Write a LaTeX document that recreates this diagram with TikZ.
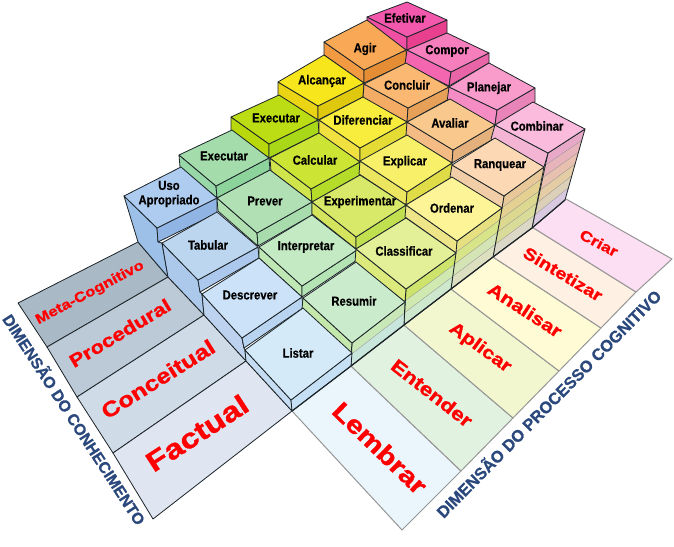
\documentclass[tikz,border=0pt]{standalone}
\usepackage{fontspec}
\setmainfont{Liberation Sans}
\newfontfamily\labfont{Liberation Sans}[FakeStretch=0.87,BoldFeatures={FakeBold=0.5}]
\newfontfamily\redfont{Liberation Sans}[FakeStretch=1.2,BoldFeatures={FakeBold=1.2}]
\newfontfamily\axfont{Liberation Sans}[BoldFeatures={FakeBold=0.8}]
\usetikzlibrary{calc}
\definecolor{edgec}{HTML}{1C2428}
\tikzset{
  lab/.style={font=\labfont\fontsize{13}{14.5}\selectfont\bfseries,text=black,inner sep=0pt,align=center},
  redlab/.style={font=\redfont\fontsize{#1}{#1}\selectfont\bfseries,text=red,inner sep=0pt},
  axislab/.style={font=\axfont\fontsize{#1}{17}\selectfont\bfseries,text={rgb,255:red,42;green,72;blue,124},inner sep=0pt},
  blk/.style={draw=edgec,line width=.8pt,line join=round},
  gryf/.style={draw={rgb,255:red,150;green,150;blue,150},line width=1pt,line join=round}
}
\newcommand{\setc}[6]{\coordinate (cL) at #1; \coordinate (cT) at #2; \coordinate (cR) at #3; \coordinate (cB) at #4; \coordinate (cBl) at #5; \coordinate (cRl) at #6;}
\newcommand{\faceL}[1]{\definecolor{cleft}{HTML}{#1}\filldraw[blk,fill=cleft] (cL) -- (cB) -- (cBl) -- ($(cL)+(cBl)-(cB)$) -- cycle;}
\newcommand{\faceR}[1]{\definecolor{cright}{HTML}{#1}\filldraw[blk,fill=cright] (cB) -- (cR) -- (cRl) -- (cBl) -- cycle;}
\newcommand{\faceT}[1]{\definecolor{ctop}{HTML}{#1}\filldraw[blk,fill=ctop] (cL) -- (cT) -- (cR) -- (cB) -- cycle;}
% \cube{L}{T}{R}{B}{lower B}{lower R}{top}{left}{right}
\newcommand{\cube}[9]{\setc{#1}{#2}{#3}{#4}{#5}{#6}\faceL{#8}\faceR{#9}\faceT{#7}}
% no left face (first column), no right face (front row)
\newcommand{\cubeTR}[8]{\setc{#1}{#2}{#3}{#4}{#5}{#6}\faceR{#8}\faceT{#7}}
\newcommand{\cubeTL}[8]{\setc{#1}{#2}{#3}{#4}{#5}{#6}\faceL{#8}\faceT{#7}}
% band of a stacked face: A B top edge, C D bottom edge, fractions, colour
\newcommand{\band}[7]{%
  \definecolor{cband}{HTML}{#7}%
  \fill[cband] ($#1!#5!#4$) -- ($#2!#5!#3$) -- ($#2!#6!#3$) -- ($#1!#6!#4$) -- cycle;
  \draw[gryf] ($#1!#6!#4$) -- ($#2!#6!#3$);
}
\begin{document}
\begin{tikzpicture}[x=1pt,y=-1pt]
\useasboundingbox (0,0) rectangle (674,546);
% --- left floor
\definecolor{fa}{HTML}{AAB9C6}\definecolor{fb}{HTML}{BCC9D6}\definecolor{fc}{HTML}{CFDBE7}\definecolor{fd}{HTML}{DFE5F1}
\filldraw[blk,fill=fa] (18,303) -- (138,242) -- (168,277) -- (47,347) -- cycle;
\filldraw[blk,fill=fb] (47,347) -- (168,277) -- (204,315) -- (77,397) -- cycle;
\filldraw[blk,fill=fc] (77,397) -- (204,315) -- (246,361) -- (113,453) -- cycle;
\filldraw[blk,fill=fd] (113,453) -- (246,361) -- (292,411) -- (153,519) -- cycle;
% --- right floor
\definecolor{ra}{HTML}{EAF5FC}\definecolor{rb}{HTML}{E2F2E0}\definecolor{rc}{HTML}{F3F7D0}\definecolor{rd}{HTML}{FEFBD5}\definecolor{re}{HTML}{FEF0E2}\definecolor{rf}{HTML}{FDDFF3}
\filldraw[gryf,fill=ra] (292,411) -- (351,366) -- (461,471) -- (402,530) -- cycle;
\filldraw[gryf,fill=rb] (351,366) -- (404,325) -- (513,418) -- (461,471) -- cycle;
\filldraw[gryf,fill=rc] (404,325) -- (451,289) -- (559,371) -- (513,418) -- cycle;
\filldraw[gryf,fill=rd] (451,289) -- (493,257) -- (601,328) -- (559,371) -- cycle;
\filldraw[gryf,fill=re] (493,257) -- (532,227) -- (636,292) -- (601,328) -- cycle;
\filldraw[gryf,fill=rf] (532,227) -- (566,199) -- (672,259) -- (636,292) -- cycle;
% --- Meta row
\cube{(367,17)}{(407,2)}{(447,20)}{(407,37)}{(407,50)}{(447,33)}{F358AC}{F04FA3}{E8408F}
\cube{(324,42)}{(367,20)}{(406,50)}{(364,70)}{(364,83)}{(407,63)}{F9A855}{F29A41}{E58D35}
\cube{(278,82)}{(324,55)}{(364,83)}{(318,106)}{(318,120)}{(363,97)}{F8E61C}{EBD414}{E0C80F}
\cube{(231,117)}{(279,95)}{(318,120)}{(269,144)}{(269,158)}{(319,133)}{BCDC14}{B8D80C}{A8D818}
\cube{(179,155)}{(232,130)}{(269,158)}{(216,186)}{(217,198)}{(270,170)}{A4DCAC}{98D8A8}{8CD49C}
\definecolor{bu}{HTML}{9DC0E8}
\filldraw[blk,fill=bu] (124,196) -- (157,228) -- (158,242) -- (162,243) -- (168,277) -- (138,242) -- cycle;
\cubeTR{(124,196)}{(181,167)}{(217,198)}{(157,228)}{(158,242)}{(217,213)}{AECCF0}{90B4E4}
% --- Procedural row
\cube{(407,50)}{(447,33)}{(489,53)}{(451,72)}{(449,86)}{(489,63)}{F77EBC}{F466B0}{EA64A8}
\cube{(364,84)}{(406,63)}{(449,87)}{(408,108)}{(407,122)}{(449,99)}{FAB872}{F4AC64}{E6A058}
\cube{(319,120)}{(363,97)}{(407,122)}{(360,148)}{(360,162)}{(407,135)}{F8EC3C}{F0E040}{E4DC34}
\cube{(270,158)}{(319,133)}{(360,162)}{(311,189)}{(312,202)}{(360,175)}{CCE434}{D0E44C}{B4DC28}
\cube{(217,198)}{(270,170)}{(312,202)}{(257,233)}{(258,246)}{(312,215)}{B0E0B4}{B0E0B0}{A8DCAC}
\definecolor{bt}{HTML}{ACC9EC}
\filldraw[blk,fill=bt] (162,243) -- (198,280) -- (200,292) -- (202,294) -- (204,315) -- (168,277) -- cycle;
\cubeTR{(162,243)}{(217,212)}{(258,247)}{(198,280)}{(200,292)}{(259,258)}{BCD6F0}{ACC8EC}
% --- Conceitual row
\cube{(449,87)}{(489,63)}{(535,88)}{(497,110)}{(495,125)}{(535,102)}{F99CCC}{F68CC4}{E884B8}
\cube{(407,122)}{(450,99)}{(495,125)}{(453,150)}{(452,163)}{(495,138)}{F9C88C}{F4BC84}{E4B07C}
\cube{(360,161)}{(407,135)}{(452,163)}{(407,192)}{(406,205)}{(452,177)}{F8F068}{ECE560}{E0DC48}
\cube{(312,202)}{(360,175)}{(406,205)}{(356,237)}{(356,249)}{(406,218)}{D8E868}{D4E45C}{C0E050}
\cube{(259,247)}{(312,215)}{(357,250)}{(302,286)}{(302,297)}{(357,260)}{C4EAC4}{C0E8B4}{B4E4B4}
\definecolor{bd}{HTML}{BDD2EE}
\filldraw[blk,fill=bd] (202,294) -- (242,338) -- (244,348) -- (245,350) -- (246,361) -- (204,315) -- cycle;
\cubeTR{(202,294)}{(259,258)}{(302,297)}{(242,338)}{(244,348)}{(303,308)}{CCE2F8}{B8D4F0}
% --- Factual row, stacked right faces
\band{(548,153)}{(585,129)}{(565,200)}{(532,228)}{0}{0.1667}{E8A8C8}
\band{(548,153)}{(585,129)}{(565,200)}{(532,228)}{0.1667}{0.3333}{E8B4BC}
\band{(548,153)}{(585,129)}{(565,200)}{(532,228)}{0.3333}{0.5}{E8C0B0}
\band{(548,153)}{(585,129)}{(565,200)}{(532,228)}{0.5}{0.6667}{E4CCA4}
\band{(548,153)}{(585,129)}{(565,200)}{(532,228)}{0.6667}{0.8333}{DCD0B8}
\band{(548,153)}{(585,129)}{(565,200)}{(532,228)}{0.8333}{1}{D8C8E0}
\draw[blk] (548,153) -- (585,129) -- (565,200) -- (532,228) -- cycle;
\cubeTL{(495,125)}{(533,102)}{(585,129)}{(548,153)}{(544,167)}{(582,142)}{FABBDC}{F4B4D4}
\band{(504,196)}{(544,167)}{(532,228)}{(493,257)}{0}{0.2}{E8C898}
\band{(504,196)}{(544,167)}{(532,228)}{(493,257)}{0.2}{0.4}{E4D090}
\band{(504,196)}{(544,167)}{(532,228)}{(493,257)}{0.4}{0.6}{DCD890}
\band{(504,196)}{(544,167)}{(532,228)}{(493,257)}{0.6}{0.8}{D8DC98}
\band{(504,196)}{(544,167)}{(532,228)}{(493,257)}{0.8}{1}{DCD8C8}
\draw[blk] (504,196) -- (544,167) -- (532,228) -- (493,257) -- cycle;
\cubeTL{(452,165)}{(495,138)}{(544,167)}{(504,196)}{(502,208)}{(541,180)}{FDD8B4}{F2CEA8}
\band{(457,241)}{(502,208)}{(493,257)}{(451,289)}{0}{0.25}{E6E080}
\band{(457,241)}{(502,208)}{(493,257)}{(451,289)}{0.25}{0.5}{D8E488}
\band{(457,241)}{(502,208)}{(493,257)}{(451,289)}{0.5}{0.75}{D4E4B4}
\band{(457,241)}{(502,208)}{(493,257)}{(451,289)}{0.75}{1}{DCE0C0}
\draw[blk] (457,241) -- (502,208) -- (493,257) -- (451,289) -- cycle;
\cubeTL{(406,205)}{(452,177)}{(502,208)}{(457,241)}{(456,253)}{(500,220)}{FDF498}{EEE488}
\band{(406,289)}{(456,253)}{(451,289)}{(404,325)}{0}{0.3333}{CDE36C}
\band{(406,289)}{(456,253)}{(451,289)}{(404,325)}{0.3333}{0.6667}{CFE9B0}
\band{(406,289)}{(456,253)}{(451,289)}{(404,325)}{0.6667}{1}{CDE8CC}
\draw[blk] (406,289) -- (456,253) -- (451,289) -- (404,325) -- cycle;
\cubeTL{(356,249)}{(406,218)}{(456,253)}{(406,289)}{(405,302)}{(455,265)}{E4F098}{DCEA7C}
\band{(352,343)}{(405,302)}{(404,325)}{(351,366)}{0}{0.5}{C8E8B8}
\band{(352,343)}{(405,302)}{(404,325)}{(351,366)}{0.5}{1}{C8E6DC}
\draw[blk] (352,343) -- (405,302) -- (404,325) -- (351,366) -- cycle;
\cubeTL{(303,298)}{(356,262)}{(405,302)}{(352,343)}{(351,354)}{(405,314)}{CBECCC}{C4E8AC}
\definecolor{bl}{HTML}{C5DCF2}
\filldraw[blk,fill=bl] (245,350) -- (291,400) -- (292,411) -- (246,361) -- cycle;
\cubeTR{(245,350)}{(303,308)}{(352,353)}{(291,400)}{(292,411)}{(351,366)}{D4EAF8}{C5E0F5}
% --- base edge
\draw[edgec,line width=1.1pt] (292,411) -- (351,366) -- (404,325) -- (451,289) -- (493,257) -- (532,228) -- (565,200);
% --- cell labels
\node[lab] (n1) at (405,18) {Efetivar};
\node[lab] (n2) at (365,49) {Agir};
\node[lab] (n3) at (447,51) {Compor};
\node[lab] (n4) at (322,81) {Alcançar};
\node[lab] (n5) at (407,85) {Concluir};
\node[lab] (n6) at (489,88) {Planejar};
\node[lab] (n7) at (276,118) {Executar};
\node[lab] (n8) at (363,120) {Diferenciar};
\node[lab] (n9) at (450,123) {Avaliar};
\node[lab] (n10) at (537,126) {Combinar};
\node[lab] (n11) at (224,156) {Executar};
\node[lab] (n12) at (315,160) {Calcular};
\node[lab] (n13) at (405,162) {Explicar};
\node[lab] (n14) at (500,165) {Ranquear};
\node[lab] (n15) at (169,194) {Uso\\Apropriado};
\node[lab] (n16) at (265,201) {Prever};
\node[lab] (n17) at (360,202) {Experimentar};
\node[lab] (n18) at (452,208) {Ordenar};
\node[lab] (n19) at (208,245) {Tabular};
\node[lab] (n20) at (306,247) {Interpretar};
\node[lab] (n21) at (404,251) {Classificar};
\node[lab] (n22) at (250,295) {Descrever};
\node[lab] (n23) at (354,301) {Resumir};
\node[lab] (n24) at (298,353) {Listar};
% --- knowledge labels
\node[redlab=27.6,rotate=33] (k1) at (197,433) {Factual};
\node[redlab=21.1,rotate=32] (k2) at (158,379) {Conceitual};
\node[redlab=18.3,rotate=31] (k3) at (120,333) {Procedural};
\node[redlab=13.9,rotate=28] (k4) at (90,293) {Meta-Cognitivo};
% --- process labels
\node[redlab=25,rotate=-44] (p1) at (380,448) {Lembrar};
\node[redlab=18.7,rotate=-38] (p2) at (432,393) {Entender};
\node[redlab=17.7,rotate=-36] (p3) at (480,348) {Aplicar};
\node[redlab=17.8,rotate=-33] (p4) at (525,310) {Analisar};
\node[redlab=16.5,rotate=-31] (p5) at (563,274) {Sintetizar};
\node[redlab=14.6,rotate=-28] (p6) at (599,243) {Criar};
% --- axis labels
\node[axislab=15.8,rotate=-57] (a1) at (75,419) {DIMENSÃO DO CONHECIMENTO};
\node[axislab=16.4,rotate=45.4] (a2) at (548,403) {DIMENSÃO DO PROCESSO COGNITIVO};
\end{tikzpicture}
\end{document}
